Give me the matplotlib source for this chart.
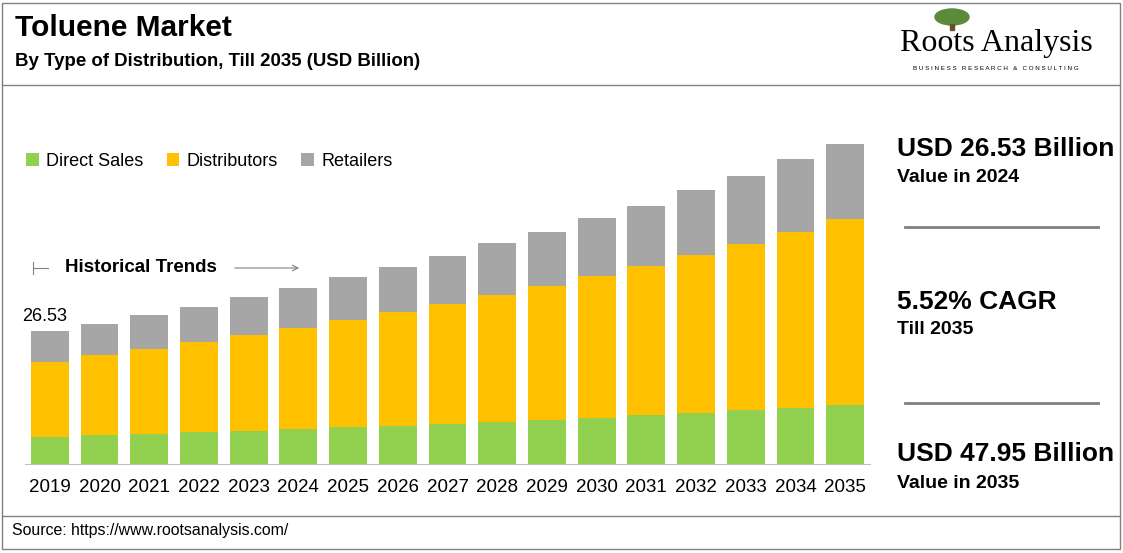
import matplotlib.pyplot as plt
from matplotlib.lines import Line2D
from matplotlib.patches import Rectangle, Ellipse

plt.rcParams['font.family'] = ['Liberation Sans', 'DejaVu Sans']

years = [str(y) for y in range(2019, 2036)]
direct_sales = [5.39, 5.79, 5.99, 6.39, 6.59, 6.99, 7.39, 7.58, 7.98, 8.38, 8.78, 9.18, 9.78, 10.18, 10.78, 11.18, 11.78]
distributors = [14.97, 15.97, 16.97, 17.96, 19.16, 20.16, 21.36, 22.75, 23.95, 25.35, 26.75, 28.34, 29.74, 31.54, 33.13, 35.13, 37.13]
retailers = [6.17, 6.19, 6.79, 6.99, 7.58, 7.98, 8.58, 8.98, 9.58, 10.38, 10.78, 11.58, 11.98, 12.97, 13.57, 14.57, 14.97]

green, yellow, gray = '#92d050', '#ffc000', '#a6a6a6'

fig = plt.figure(figsize=(11.23, 5.53), dpi=100)
fig.patch.set_facecolor('white')
W, H = 1123, 553
def fx(x): return x / W
def fy(y): return 1 - y / H

ax = fig.add_axes([fx(25), fy(464), 845 / W, 364 / H])
x = list(range(len(years)))
bottom2 = [a + b for a, b in zip(direct_sales, distributors)]
ax.bar(x, direct_sales, width=0.76, color=green, label='Direct Sales')
ax.bar(x, distributors, width=0.76, bottom=direct_sales, color=yellow, label='Distributors')
ax.bar(x, retailers, width=0.76, bottom=bottom2, color=gray, label='Retailers')
ax.set_xlim(-0.5, 16.5)
ax.set_ylim(0, 72.6)
ax.set_xticks(x)
ax.set_xticklabels(years, fontsize=13.5)
ax.tick_params(length=0, pad=11)
ax.set_yticks([])
for s in ['top', 'right', 'left']:
    ax.spines[s].set_visible(False)
ax.spines['bottom'].set_color('#bfbfbf')
total0 = direct_sales[0] + distributors[0] + retailers[0]
ax.text(-0.1, total0 + 1.2, f'{total0:.2f}', ha='center', va='bottom', fontsize=13)
ax.legend(loc='upper left', bbox_to_anchor=(-0.018, 0.9), ncol=3, frameon=False,
          fontsize=13, handlelength=0.7, handleheight=0.7, columnspacing=1.3, handletextpad=0.4)

# historical trends arrow
fig.text(fx(65), fy(268), 'Historical Trends', fontsize=13.5, fontweight='bold', va='center')
fig.add_artist(Line2D([fx(33), fx(33)], [fy(262), fy(274)], color='#808080', lw=0.8))
fig.add_artist(Line2D([fx(33), fx(48)], [fy(268), fy(268)], color='#808080', lw=0.8))
ax.annotate('', xy=(fx(302), fy(268)), xytext=(fx(232), fy(268)), xycoords='figure fraction',
            arrowprops=dict(arrowstyle='->', color='#808080', lw=0.8))

# header
fig.text(fx(15), fy(28), 'Toluene Market', fontsize=21.5, fontweight='bold', va='center')
fig.text(fx(15), fy(62), 'By Type of Distribution, Till 2035 (USD Billion)', fontsize=13.4, fontweight='bold', va='center')
fig.text(fx(996), fy(44), 'Roots Analysis', fontsize=23, family='Liberation Serif', ha='center', va='center')
fig.text(fx(996), fy(69), 'B U S I N E S S   R E S E A R C H   &   C O N S U L T I N G', fontsize=4.5, ha='center', va='center')
fig.add_artist(Ellipse((fx(952), fy(17)), 34 / W, 16 / H, color='#5a8a3a', transform=fig.transFigure))
fig.add_artist(Rectangle((fx(950), fy(30)), 4 / W, 6 / H, color='#6b4f2a', transform=fig.transFigure))

# right panel
fig.text(fx(897), fy(149), 'USD 26.53 Billion', fontsize=19, fontweight='bold', va='center')
fig.text(fx(897), fy(178), 'Value in 2024', fontsize=14, fontweight='bold', va='center')
fig.add_artist(Line2D([fx(905), fx(1098)], [fy(227), fy(227)], color='#7f7f7f', lw=2))
fig.text(fx(897), fy(302), '5.52% CAGR', fontsize=19, fontweight='bold', va='center')
fig.text(fx(897), fy(330), 'Till 2035', fontsize=14, fontweight='bold', va='center')
fig.add_artist(Line2D([fx(905), fx(1098)], [fy(403), fy(403)], color='#7f7f7f', lw=2))
fig.text(fx(897), fy(454), 'USD 47.95 Billion', fontsize=19, fontweight='bold', va='center')
fig.text(fx(897), fy(483), 'Value in 2035', fontsize=14, fontweight='bold', va='center')

# frame
fig.text(fx(12), fy(531), 'Source: https://www.rootsanalysis.com/', fontsize=11.4, va='center')
fig.add_artist(Rectangle((fx(2), fy(549)), 1118 / W, 546 / H, fill=False, ec='#808080', lw=1, transform=fig.transFigure))
fig.add_artist(Line2D([fx(2), fx(1120)], [fy(85), fy(85)], color='#808080', lw=1))
fig.add_artist(Line2D([fx(2), fx(1120)], [fy(516), fy(516)], color='#808080', lw=1))

fig.savefig('out.png', dpi=100)
